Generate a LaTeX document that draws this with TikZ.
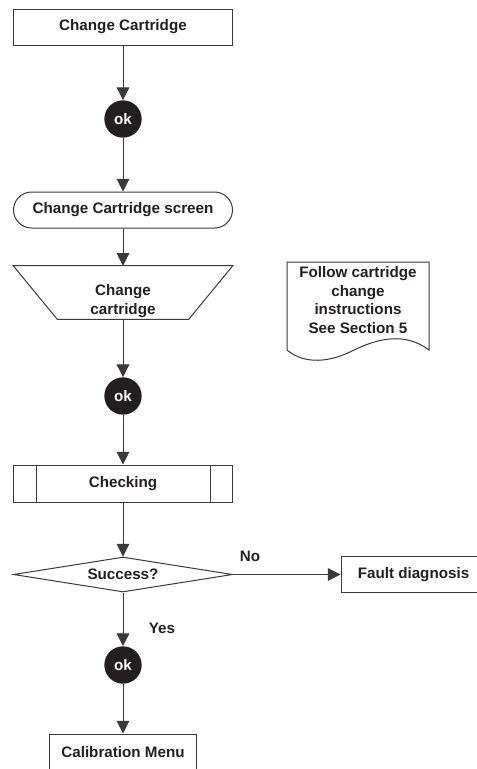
\documentclass[tikz,border=0pt]{standalone}
\usepackage{xcolor}
\usepackage{fontspec}
\setmainfont{Liberation Sans}
\usepackage{tikz}
\usetikzlibrary{positioning, arrows.meta, shapes.geometric}
\definecolor{flowink}{HTML}{231F20}
\definecolor{flowline}{HTML}{3A3A3A}
\tikzset{
  base/.style={font=\fontsize{11.4}{14}\selectfont\bfseries, text=flowink, align=center},
  box/.style={base, draw=flowline, line width=0.75pt, minimum width=164.25pt, minimum height=27pt, inner sep=0pt},
  okdot/.style={base, circle, fill=flowink, text=white, minimum size=28pt, inner sep=0pt},
  stadium/.style={box, rounded corners=13.5pt},
  decision/.style={base, diamond, draw=flowline, line width=0.75pt, aspect=6,
                   minimum width=164.25pt, minimum height=26.25pt, inner sep=0pt},
  flow/.style={draw=flowline, line width=0.75pt, -{Triangle[length=9.5pt, width=9.5pt]}},
  outline/.style={draw=flowline, line width=0.75pt}
}

\begin{document}
\begin{tikzpicture}[x=0.75pt, y=-0.75pt]
    \useasboundingbox (0,0) rectangle (477,769);

    \node[box] (chgcart) at (123,27) {Change Cartridge};
    \node[okdot] (okA) at (123,119) {ok};
    \node[stadium] (screen) at (123,210) {Change Cartridge screen};
    \node[minimum width=164.25pt, minimum height=39.75pt, inner sep=0pt] (chgstep) at (123,292.5) {};
    \draw[outline] (chgstep.north west) -- (chgstep.north east)
      -- ([xshift=-33pt]chgstep.south east) -- ([xshift=33pt]chgstep.south west) -- cycle;
    \node[base] (chgtext) at (123,301) {Change\\cartridge};
    \node[okdot] (okB) at (123,396) {ok};
    \node[box, minimum height=27.75pt] (checking) at (123,483.5) {Checking};
    \draw[outline] ([xshift=17.25pt]checking.north west) -- ([xshift=17.25pt]checking.south west);
    \draw[outline] ([xshift=-17.25pt]checking.north east) -- ([xshift=-17.25pt]checking.south east);
    \node[decision] (success) at (123,574.5) {Success?};
    \node[box, minimum width=108.75pt] (fault) at (413.5,574.5) {Fault diagnosis};
    \node[okdot] (okC) at (123,665) {ok};
    \node[box, minimum width=110.25pt] (calmenu) at (123,752) {Calibration Menu};

    \node[base] (nolabel) at (250,556) {No};
    \node[base] (yeslabel) at (162,628) {Yes};

    \node[base] (note) at (358,300) {Follow cartridge\\change\\instructions\\See Section 5};
    \draw[outline] (287,350) -- (287,262) -- (429,262) -- (429,350)
      .. controls (405,332) and (378,338) .. (352,351)
      .. controls (330,362) and (305,365) .. (287,350);

    \draw[flow] (chgcart) -- (okA);
    \draw[flow] (okA) -- (screen);
    \draw[flow] (screen) -- (chgstep);
    \draw[flow] (chgstep) -- (okB);
    \draw[flow] (okB) -- (checking);
    \draw[flow] (checking) -- (success);
    \draw[flow] (success.east) -- (fault.west);
    \draw[flow] (success) -- (okC);
    \draw[flow] (okC) -- (calmenu);
\end{tikzpicture}
\end{document}
